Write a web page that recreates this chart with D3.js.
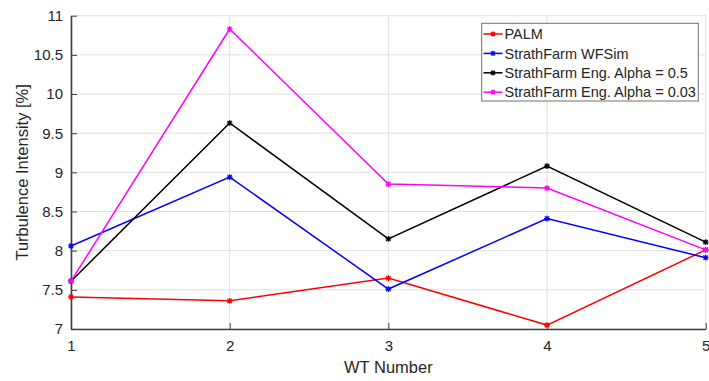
<!DOCTYPE html>
<html>
<head>
<meta charset="utf-8">
<script src="https://cdn.jsdelivr.net/npm/d3@7"></script>
<style>
  html, body { margin: 0; padding: 0; background: #fff; }
  svg { display: block; }
  text { font-family: "Liberation Sans", Arial, Helvetica, sans-serif; fill: #262626; }
</style>
</head>
<body>
<svg id="chart" width="709" height="381"></svg>
<script>
// Turbine index along the row
const turbines = [1, 2, 3, 4, 5];

// Turbulence intensity [%] per turbine, one array per model
const palm      = [7.41, 7.36, 7.65, 7.05, 8.01];
const wfsim     = [8.06, 8.94, 7.51, 8.41, 7.91];
const engAlpha5 = [7.61, 9.63, 8.15, 9.08, 8.11];
const engAlpha3 = [7.61, 10.83, 8.85, 8.80, 8.01];

const seriesNames  = ["PALM", "StrathFarm WFSim", "StrathFarm Eng. Alpha = 0.5", "StrathFarm Eng. Alpha = 0.03"];
const seriesColors = ["#ff0000", "#0000ff", "#000000", "#ff00ff"];
const seriesValues = [palm, wfsim, engAlpha5, engAlpha3];

const yTicks = [7, 7.5, 8, 8.5, 9, 9.5, 10, 10.5, 11];

const svg = d3.select("#chart");
const plotLeft = 71, plotRight = 705.7, plotTop = 15.7, plotBottom = 329;

const x = d3.scaleLinear().domain([1, 5]).range([plotLeft, plotRight]);
const y = d3.scaleLinear().domain([7, 11]).range([plotBottom, plotTop]);

// grid
const grid = svg.append("g").attr("stroke", "#dfdfdf").attr("stroke-width", 1);
grid.selectAll(".gx").data(turbines).join("line")
  .attr("x1", d => x(d)).attr("x2", d => x(d))
  .attr("y1", plotTop).attr("y2", plotBottom);
grid.selectAll(".gy").data(yTicks).join("line")
  .attr("x1", plotLeft).attr("x2", plotRight)
  .attr("y1", d => y(d)).attr("y2", d => y(d));

// axes (inward ticks)
const xAxis = svg.append("g").attr("transform", `translate(0,${plotBottom})`)
  .call(d3.axisBottom(x).tickValues(turbines).tickFormat(d3.format("d")).tickSizeInner(-6).tickSizeOuter(0).tickPadding(11));
const yAxis = svg.append("g").attr("transform", `translate(${plotLeft},0)`)
  .call(d3.axisLeft(y).tickValues(yTicks).tickFormat(d => String(d)).tickSizeInner(-6).tickSizeOuter(0).tickPadding(8));

[xAxis, yAxis].forEach(a => {
  a.select(".domain").attr("stroke", "#404040").attr("stroke-width", 1.6);
  a.selectAll(".tick line").attr("stroke", "#404040").attr("stroke-width", 1);
  a.selectAll(".tick text").attr("font-size", 15).attr("fill", "#262626")
    .attr("font-family", "Liberation Sans, Arial, sans-serif");
});

// series lines
const line = d3.line().x((d, i) => x(turbines[i])).y(d => y(d));
const plot = svg.append("g");

function marker(g, cx, cy, color, s) {
  g.append("path")
    .attr("d", `M${cx - s},${cy - s}L${cx + s},${cy + s}M${cx - s},${cy + s}L${cx + s},${cy - s}M${cx - s * 1.3},${cy}L${cx + s * 1.3},${cy}M${cx},${cy - s * 1.3}L${cx},${cy + s * 1.3}`)
    .attr("stroke", color).attr("stroke-width", 1.2).attr("fill", "none");
}

seriesValues.forEach((vals, k) => {
  plot.append("path").datum(vals)
    .attr("d", line).attr("fill", "none")
    .attr("stroke", seriesColors[k]).attr("stroke-width", 1.5);
  vals.forEach((v, i) => marker(plot, x(turbines[i]), y(v), seriesColors[k], 2.2));
});

// axis titles
svg.append("text").attr("x", (plotLeft + plotRight) / 2).attr("y", 373)
  .attr("text-anchor", "middle").attr("font-size", 16.5).text("WT Number");
svg.append("text").attr("transform", `translate(28,${(plotTop + plotBottom) / 2}) rotate(-90)`)
  .attr("text-anchor", "middle").attr("font-size", 16.5).text("Turbulence Intensity [%]");

// legend
const lg = svg.append("g");
lg.append("rect").attr("x", 481.7).attr("y", 23.3).attr("width", 216.6).attr("height", 77.7)
  .attr("fill", "#fff").attr("stroke", "#707070").attr("stroke-width", 1);
seriesNames.forEach((name, k) => {
  const ly = 34 + k * 19.4;
  lg.append("line").attr("x1", 483.5).attr("x2", 502.5).attr("y1", ly).attr("y2", ly)
    .attr("stroke", seriesColors[k]).attr("stroke-width", 1.5);
  marker(lg, 493, ly, seriesColors[k], 2);
  lg.append("text").attr("x", 504.5).attr("y", ly + 5.2).attr("font-size", 14.5).text(name);
});
</script>
</body>
</html>
